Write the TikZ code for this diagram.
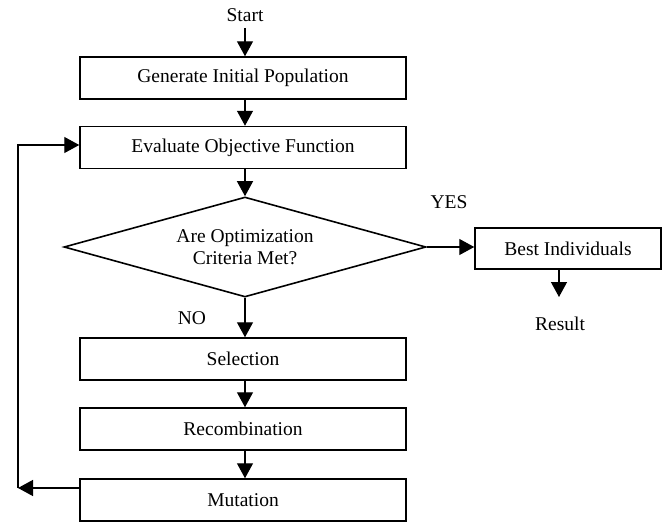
\documentclass[tikz,border=0pt]{standalone}
\usepackage{fontspec}
\setmainfont{Liberation Serif}
\usetikzlibrary{arrows.meta, positioning, shapes.geometric, calc}
\tikzset{
  arrowK/.style={-{Triangle[length=15pt, width=16pt]}, line width=1.3pt},
  boxStep/.style={rectangle, draw, line width=1.5pt, inner sep=0pt,
                  minimum width=326pt, minimum height=42pt, align=center},
  boxBest/.style={rectangle, draw, line width=1.5pt, inner sep=0pt,
                  minimum width=186pt, minimum height=41pt, align=center},
  boxTest/.style={diamond, draw, line width=1.6pt, inner sep=0pt, aspect=3.62,
                  minimum width=362pt, minimum height=100pt, align=center},
  labelT/.style={inner sep=0pt},
}

\begin{document}
\begin{tikzpicture}[x=1pt, y=-1pt, font=\fontsize{19.5}{22}\selectfont]
    \useasboundingbox (0,0) rectangle (667,522);
    % main column
    \node[labelT] (start) at (245,15) {Start};
    \node[boxStep] (gen) at (243,78) {Generate Initial Population};
    \node[boxStep] (eval) at (243,147.5) {Evaluate Objective Function};
    \node[boxTest] (test) at (245,247) {Are Optimization\\Criteria Met?};
    \node[boxStep] (sel) at (243,359) {Selection};
    \node[boxStep] (rec) at (243,429) {Recombination};
    \node[boxStep] (mut) at (243,500) {Mutation};
    % right branch
    \node[boxBest] (best) at (568,248.5) {Best Individuals};
    \node[labelT] (res) at (560,324) {Result};
    \coordinate (resTip) at (559,297);
    \node[labelT] (yes) at (449,202) {YES};
    \node[labelT] (no) at (192,318) {NO};
    \coordinate (loopL) at (18,488);
    % connectors
    \coordinate (colX) at (245,0);
    \draw[arrowK] ([yshift=-6pt]start.south) -- (gen.north -| colX);
    \draw[arrowK] (gen.south -| colX) -- (eval.north -| colX);
    \draw[arrowK] (eval.south -| colX) -- (test.north);
    \draw[arrowK] (test.south) -- (sel.north -| colX);
    \draw[arrowK] (sel.south -| colX) -- (rec.north -| colX);
    \draw[arrowK] (rec.south -| colX) -- (mut.north -| colX);
    \draw[arrowK] (test.east) -- (test.east -| best.west);
    \draw[arrowK] (best.south -| resTip) -- (resTip);
    \draw[arrowK] ([yshift=12pt]mut.west) -- (loopL);
    \draw[arrowK] (loopL) |- ([yshift=2.5pt]eval.west);
\end{tikzpicture}
\end{document}
